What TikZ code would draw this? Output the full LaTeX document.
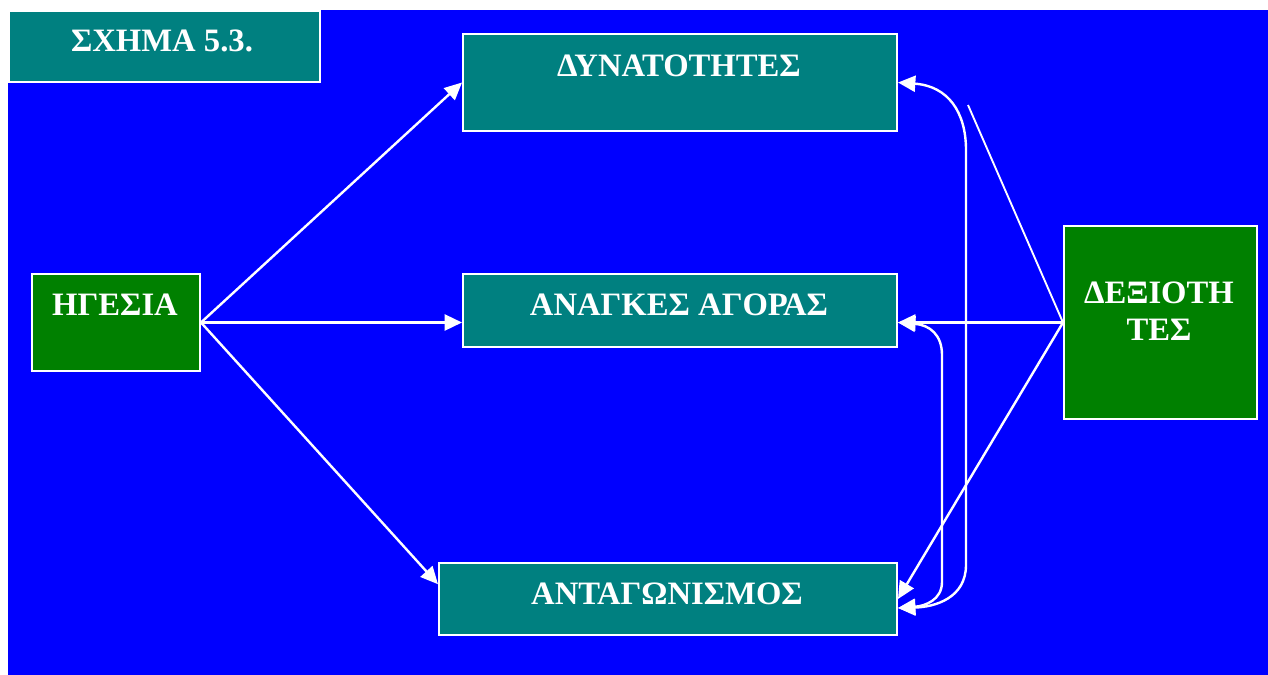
\documentclass[tikz,border=0pt]{standalone}
\usepackage{fontspec}
\setmainfont{Liberation Serif}
\usetikzlibrary{arrows.meta,calc}
\definecolor{bgblue}{HTML}{0000FF}
\definecolor{tealbox}{HTML}{008080}
\definecolor{greenbox}{HTML}{008000}
\tikzset{
  panel/.style={draw=white, line width=1.5pt, inner sep=0pt, anchor=north west},
  tealpanel/.style={panel, fill=tealbox},
  greenpanel/.style={panel, fill=greenbox},
  caption/.style={text=white, font=\fontsize{24.5}{28}\selectfont\bfseries, anchor=base, inner sep=0pt},
  tip/.style={Triangle[length=13pt,width=12pt]},
  link/.style={draw=white, line width=1.8pt, -{Triangle[length=13pt,width=12pt]}},
  biglink/.style={draw=white, line width=1.8pt, {Triangle[length=13pt,width=12pt]}-{Triangle[length=13pt,width=12pt]}},
  plainlink/.style={draw=white, line width=1.4pt}
}
\begin{document}
\begin{tikzpicture}[x=0.75pt, y=-0.75pt]
\useasboundingbox (0,0) rectangle (1268,675);
\fill[white] (0,0) rectangle (1268,675);
\fill[bgblue] (8,10) rectangle (1268,675);

% title panel
\node[tealpanel, minimum width=311*0.75pt, minimum height=71*0.75pt] (title) at (8,10) {};
\node[caption] (titletext) at (162,51) {ΣΧΗΜΑ 5.3.};

% boxes
\node[tealpanel, minimum width=434*0.75pt, minimum height=97*0.75pt] (dyn) at (462,33) {};
\node[caption] (dyntext) at (679,76) {ΔΥΝΑΤΟΤΗΤΕΣ};

\node[tealpanel, minimum width=434*0.75pt, minimum height=73*0.75pt] (ana) at (462,273) {};
\node[caption] (anatext) at (679,315) {ΑΝΑΓΚΕΣ ΑΓΟΡΑΣ};

\node[tealpanel, minimum width=458*0.75pt, minimum height=72*0.75pt] (ant) at (438,562) {};
\node[caption] (anttext) at (667,604) {ΑΝΤΑΓΩΝΙΣΜΟΣ};

\node[greenpanel, minimum width=168*0.75pt, minimum height=97*0.75pt] (hg) at (31,273) {};
\node[caption] (hgtext) at (115,315) {ΗΓΕΣΙΑ};

\node[greenpanel, minimum width=193*0.75pt, minimum height=193*0.75pt] (dex) at (1063,225) {};
\node[caption] (dextext1) at (1159,303) {ΔΕΞΙΟΤΗ};
\node[caption] (dextext2) at (1159,340) {ΤΕΣ};

% free end of the short line
\coordinate (loose) at (968,105);

% connectors from ΗΓΕΣΙΑ
\draw[link] (hg.east) -- (dyn.west);
\draw[link] (hg.east) -- (hg.east -| ana.west);
\draw[link] (hg.east) -- ($(ant.north west)!0.3!(ant.south west)$);

% connectors from ΔΕΞΙΟΤΗΤΕΣ
\draw[link] (dex.west) -- (dex.west -| ana.east);
\draw[link] (dex.west) -- (ant.east);
\draw[plainlink] (dex.west) -- (loose);

% curved links on the right
\draw[biglink] (dyn.east) .. controls (948,86) and (966,112) .. (966,150)
  -- (966,565) .. controls (966,598) and (935,607) .. ($(ant.east)+(0,9)$);
\draw[biglink] (dex.west -| ana.east) .. controls (930,325) and (942,335) .. (942,355)
  -- (942,582) .. controls (942,600) and (925,606) .. ($(ant.east)+(0,9)$);
\end{tikzpicture}
\end{document}
